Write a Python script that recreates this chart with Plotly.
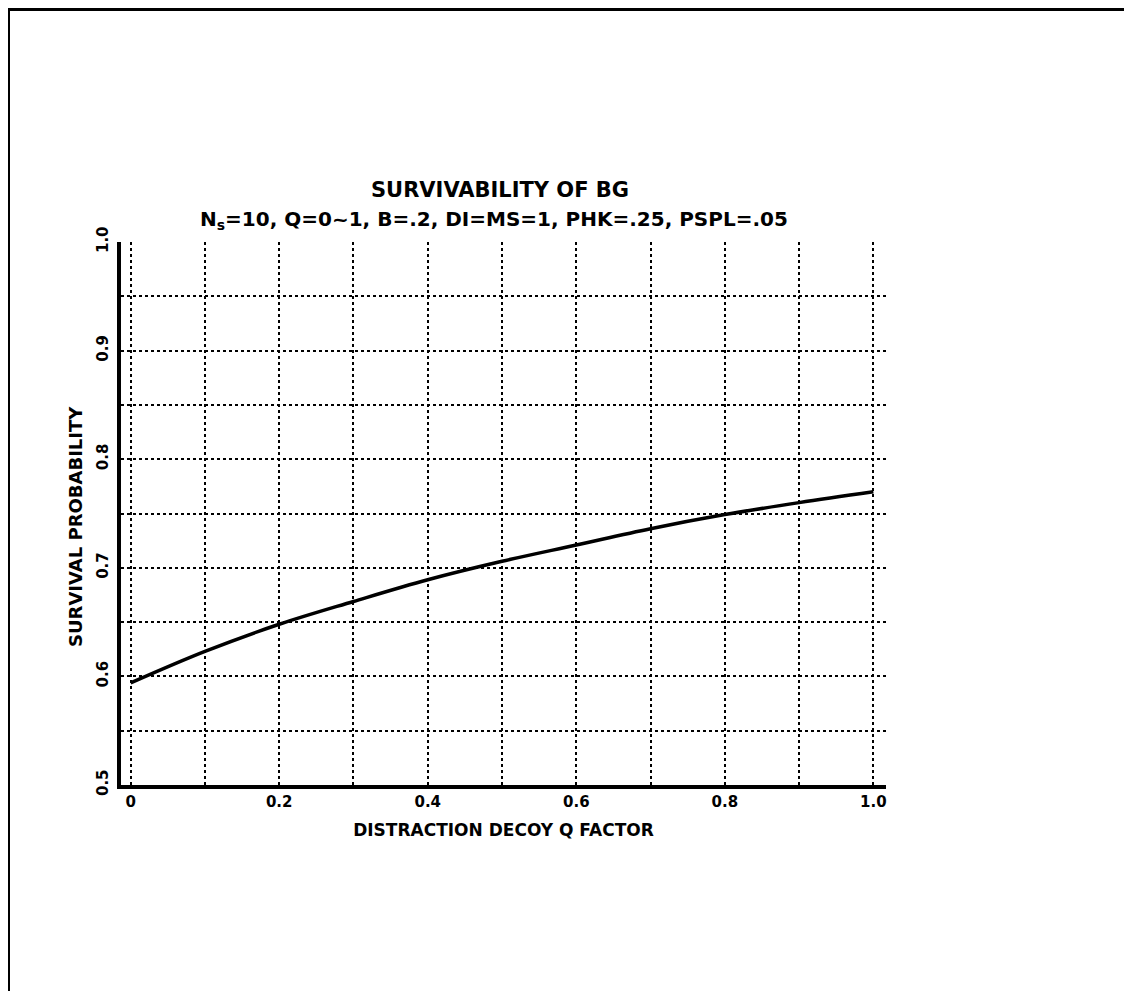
import plotly.graph_objects as go

# Data
q_factor = [0.0, 0.1, 0.2, 0.3, 0.4, 0.5, 0.6, 0.7, 0.8, 0.9, 1.0]
survival = [0.594, 0.623, 0.648, 0.669, 0.689, 0.706, 0.721, 0.736, 0.749, 0.760, 0.770]

x_tickvals = [0, 0.2, 0.4, 0.6, 0.8, 1.0]
x_ticktext = ["0", "0.2", "0.4", "0.6", "0.8", "1.0"]
y_tickvals = [0.5, 0.6, 0.7, 0.8, 0.9, 1.0]
y_ticktext = ["0.5", "0.6", "0.7", "0.8", "0.9", "1.0"]

# The page body adds an 8px offset; size the figure so it fills the window.
OFF = 8
W, H = 1132 - OFF, 991 - OFF
ML, MR, MT, MB = 121 - OFF, 246, 242 - OFF, 206
PW, PH = W - ML - MR, H - MT - MB

FONT = "DejaVu Sans"

fig = go.Figure()
fig.add_trace(go.Scatter(
    x=q_factor, y=survival, mode="lines",
    line=dict(color="black", width=3.5, shape="spline"),
    hoverinfo="skip", showlegend=False,
))

grid = dict(showgrid=True, gridcolor="black", gridwidth=1.5, griddash="dot")

fig.update_layout(
    width=W, height=H,
    margin=dict(l=ML, r=MR, t=MT, b=MB, autoexpand=False),
    paper_bgcolor="white", plot_bgcolor="white",
    font=dict(family=FONT, color="black"),
    xaxis=dict(
        range=[-0.013, 1.017],
        tickvals=x_tickvals, ticktext=x_ticktext,
        tickfont=dict(size=15, family=FONT, weight="bold"),
        ticks="", zeroline=False,
        showline=True, linecolor="black", linewidth=4,
        minor=dict(dtick=0.1, tick0=0, **grid),
        **grid,
        title=dict(text="<b>DISTRACTION DECOY Q FACTOR</b>",
                   font=dict(size=17, family=FONT), standoff=15),
    ),
    yaxis=dict(
        range=[0.5, 1.0],
        tickvals=y_tickvals, ticktext=y_ticktext, tickangle=-90,
        tickfont=dict(size=15, family=FONT, weight="bold"),
        ticklabelstandoff=3,
        ticks="", zeroline=False,
        showline=True, linecolor="black", linewidth=4,
        minor=dict(dtick=0.05, tick0=0.5, **grid),
        **grid,
    ),
)

def px_to_paper_x(px):
    return (px - OFF - ML) / PW

def px_to_paper_y(py):
    return (H - MB - (py - OFF)) / PH

# Title and subtitle
fig.add_annotation(
    text="<b>SURVIVABILITY OF BG</b>", xref="paper", yref="paper",
    x=px_to_paper_x(500), y=px_to_paper_y(190), showarrow=False,
    font=dict(size=21, family=FONT), xanchor="center", yanchor="middle",
)
fig.add_annotation(
    text="<b>N<sub>s</sub>=10, Q=0~1, B=.2, DI=MS=1, PHK=.25, PSPL=.05</b>",
    xref="paper", yref="paper",
    x=px_to_paper_x(494), y=px_to_paper_y(220), showarrow=False,
    font=dict(size=20, family=FONT), xanchor="center", yanchor="middle",
)
# Y axis title
fig.add_annotation(
    text="<b>SURVIVAL PROBABILITY</b>", xref="paper", yref="paper",
    x=px_to_paper_x(75), y=px_to_paper_y(527), showarrow=False, textangle=-90,
    font=dict(size=18, family=FONT), xanchor="center", yanchor="middle",
)

# Page frame (top and left edges of the scanned border)
fig.add_shape(type="line", xref="paper", yref="paper",
              x0=px_to_paper_x(9), x1=px_to_paper_x(1140),
              y0=px_to_paper_y(9.5), y1=px_to_paper_y(9.5),
              line=dict(color="black", width=3))
fig.add_shape(type="line", xref="paper", yref="paper",
              x0=px_to_paper_x(9), x1=px_to_paper_x(9),
              y0=px_to_paper_y(8), y1=px_to_paper_y(1000),
              line=dict(color="black", width=2))

fig.write_html("out.html")
